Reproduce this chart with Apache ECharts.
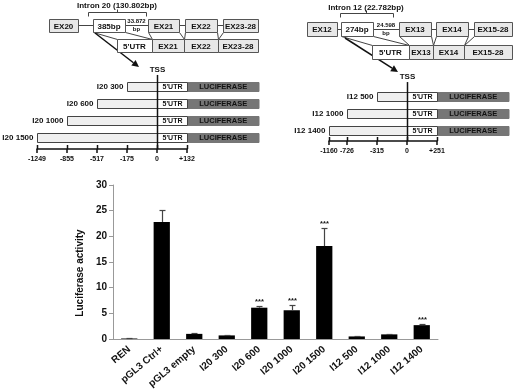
<!DOCTYPE html>
<html>
<head>
<meta charset="utf-8">
<script src="https://cdn.jsdelivr.net/npm/echarts@6/dist/echarts.min.js"></script>
<style>
html, body { margin: 0; padding: 0; background: #fff; }
#main { width: 520px; height: 392px; }
</style>
</head>
<body>
<div id="main"></div>
<script>
// bar chart data
var categories = ['REN', 'pGL3 Ctrl+', 'pGL3 empty', 'I20 300', 'I20 600', 'I20 1000', 'I20 1500', 'I12 500', 'I12 1000', 'I12 1400'];
var activity = [0.1, 22.8, 1.0, 0.7, 6.1, 5.6, 18.1, 0.5, 0.9, 2.7];
var errors = [0.05, 2.4, 0.15, 0.15, 0.4, 1.0, 3.5, 0.1, 0.15, 0.2];
var stars = ['', '', '', '', '***', '***', '***', '', '', '***'];

// promoter constructs, intron 20
var i20Names = ['I20 300', 'I20 600', 'I20 1000', 'I20 1500'];
var i20Start = [-175, -517, -855, -1249];
var i20TicksBp = [-1249, -855, -517, -175, 0, 132];
var i20TickSlots = [-4, -3, -2, -1, 0, 1];

// promoter constructs, intron 12
var i12Names = ['I12 500', 'I12 1000', 'I12 1400'];
var i12Start = [-315, -726, -1160];
var i12TicksBp = [-1160, -726, -315, 0, 251];
var i12TickSlots = [-2.6, -2, -1, 0, 1];

var FONT = '"Liberation Sans", Arial, sans-serif';
function bf(sz) { return 'bold ' + sz + 'px ' + FONT; }
function bpLabel(v) { return v > 0 ? '+' + v : String(v); }
// the drawing is schematic: each bp tick sits on its own slot
function bpToSlot(bp, ticks, slots) { return slots[ticks.indexOf(bp)]; }

var chart = echarts.init(document.getElementById('main'));

// ---- schematic exon drawings (graphic) ----
var g = [];
var EXF = '#e8e8e8';
function box(x1, y1, x2, y2, t, fill) {
    g.push({ type: 'rect', z: 10, shape: { x: x1 + 0.5, y: y1 + 0.5, width: x2 - x1, height: y2 - y1 },
        style: { fill: fill || EXF, stroke: '#555', lineWidth: 1 } });
    g.push({ type: 'text', z: 11, x: (x1 + x2) / 2, y: (y1 + y2) / 2 + 1,
        style: { text: t, font: bf(8), fill: '#111', align: 'center', verticalAlign: 'middle' } });
}
function seg(pts, w, col) {
    g.push({ type: 'polyline', z: 9, shape: { points: pts }, style: { stroke: col || '#444', lineWidth: w || 1, fill: null } });
}
function txt(x, y, t, sz) {
    g.push({ type: 'text', z: 11, x: x, y: y, style: { text: t, font: bf(sz), fill: '#111', align: 'center', verticalAlign: 'middle' } });
}
function arrow(x1, y1, x2, y2) {
    var dx = x2 - x1, dy = y2 - y1, L = Math.sqrt(dx * dx + dy * dy), ux = dx / L, uy = dy / L;
    var bx = x2 - ux * 7, by = y2 - uy * 7;
    seg([[x1, y1], [bx, by]], 1.5, '#111');
    g.push({ type: 'polygon', z: 12, shape: { points: [[x2, y2], [bx - uy * 3.5, by + ux * 3.5], [bx + uy * 3.5, by - ux * 3.5]] },
        style: { fill: '#111' } });
}

// intron 20
txt(117, 6, 'Intron 20 (130.802bp)', 8);
seg([[88.5, 16.5], [88.5, 12.5], [146.5, 12.5], [146.5, 16.5]]);
seg([[117.5, 12.5], [117.5, 9.5]]);
box(49, 19, 78, 32, 'EX20');
seg([[78, 25.5], [93, 25.5]]);
box(93, 19, 125, 32, '385bp', '#fff');
seg([[125, 25.5], [148, 25.5]]);
txt(136.5, 21.5, '33.872', 6);
txt(136.5, 29.5, 'bp', 6);
box(148, 19, 179, 32, 'EX21');
seg([[179, 25.5], [185, 25.5]]);
box(185, 19, 217, 32, 'EX22');
seg([[217, 25.5], [223, 25.5]]);
box(223, 19, 258, 32, 'EX23-28');
box(117, 39, 152, 52, "5'UTR", '#fff');
box(152, 39, 184, 52, 'EX21');
box(184, 39, 218, 52, 'EX22');
box(218, 39, 258, 52, 'EX23-28');
seg([[93.5, 32.5], [117.5, 39.5]]);
seg([[125.5, 32.5], [152.5, 39.5]]);
seg([[148.5, 32.5], [152.5, 39.5]]);
seg([[179.5, 32.5], [184.5, 39.5]]);
seg([[185.5, 32.5], [184.5, 39.5]]);
seg([[217.5, 32.5], [218.5, 39.5]]);
seg([[223.5, 32.5], [218.5, 39.5]]);
arrow(95, 33, 139, 67);

// intron 12
txt(366, 8, 'Intron 12 (22.782bp)', 8);
seg([[340.5, 17.5], [340.5, 13.5], [393.5, 13.5], [393.5, 17.5]]);
seg([[366.5, 13.5], [366.5, 10.5]]);
box(307, 22, 337, 36, 'EX12');
seg([[337, 29.5], [341, 29.5]]);
box(341, 22, 373, 36, '274bp', '#fff');
seg([[373, 29.5], [399, 29.5]]);
txt(386, 25, '24.598', 6);
txt(386, 33, 'bp', 6);
box(399, 22, 431, 36, 'EX13');
seg([[431, 29.5], [436, 29.5]]);
box(436, 22, 468, 36, 'EX14');
seg([[468, 29.5], [474, 29.5]]);
box(474, 22, 512, 36, 'EX15-28');
box(372, 45, 409, 59, "5'UTR", '#fff');
box(409, 45, 433, 59, 'EX13');
box(433, 45, 464, 59, 'EX14');
box(464, 45, 512, 59, 'EX15-28');
seg([[341.5, 36.5], [372.5, 45.5]]);
seg([[373.5, 36.5], [409.5, 45.5]]);
seg([[399.5, 36.5], [409.5, 45.5]]);
seg([[431.5, 36.5], [433.5, 45.5]]);
seg([[436.5, 36.5], [433.5, 45.5]]);
seg([[468.5, 36.5], [464.5, 45.5]]);
seg([[474.5, 36.5], [464.5, 45.5]]);
arrow(345, 38, 398, 72);

// ---- construct rows (custom series on schematic axes) ----
var LUC_END = 3.4;
function constructRender(names) {
    return function (params, api) {
        var s = api.value(0), row = api.value(1), name = names[params.dataIndex];
        var p0 = api.coord([s, row]), pT = api.coord([0, row]), pU = api.coord([1, row]), pL = api.coord([LUC_END, row]);
        var h = 9, y = Math.round(p0[1] - h / 2) + 0.5;
        var x0 = Math.round(p0[0]) + 0.5, xT = Math.round(pT[0]) + 0.5, xU = Math.round(pU[0]) + 0.5, xL = Math.round(pL[0]);
        return { type: 'group', children: [
            { type: 'rect', shape: { x: xU, y: y, width: xL - xU, height: h }, style: { fill: '#767676', stroke: '#767676', lineWidth: 1 } },
            { type: 'rect', shape: { x: x0, y: y, width: xT - x0, height: h }, style: { fill: '#efefef', stroke: '#444', lineWidth: 1 } },
            { type: 'rect', shape: { x: xT, y: y, width: xU - xT, height: h }, style: { fill: '#fff', stroke: '#444', lineWidth: 1 } },
            { type: 'text', x: (xT + xU) / 2, y: p0[1] + 1, style: { text: "5'UTR", font: bf(7), fill: '#111', align: 'center', verticalAlign: 'middle' } },
            { type: 'text', x: (xU + xL) / 2, y: p0[1] + 1, style: { text: 'LUCIFERASE', font: bf(7.5), fill: '#111', align: 'center', verticalAlign: 'middle' } },
            { type: 'text', x: x0 - 4, y: p0[1] + 1, style: { text: name, font: bf(8), fill: '#111', align: 'right', verticalAlign: 'middle' } }
        ] };
    };
}
function tssItem(params, api) {
    var top = api.coord([0, api.value(1)]), bot = api.coord([0, api.value(2)]);
    var x = Math.round(top[0]) + 0.5;
    return { type: 'group', children: [
        { type: 'line', shape: { x1: x, y1: top[1], x2: x, y2: bot[1] }, style: { stroke: '#111', lineWidth: 1.5 } },
        { type: 'text', x: x, y: top[1] - 1, style: { text: 'TSS', font: bf(8), fill: '#111', align: 'center', verticalAlign: 'bottom' } }
    ] };
}
// upper half of each position tick (the axis draws the lower half)
function tickUpItem(params, api) {
    var p = api.coord([api.value(0), api.value(1)]);
    var x = Math.round(p[0]) + 0.5;
    return { type: 'line', shape: { x1: x, y1: p[1], x2: x, y2: p[1] - 4 }, style: { stroke: '#111', lineWidth: 1.5 } };
}

var i20Rows = i20Names.map(function (n, i) { return [bpToSlot(i20Start[i], i20TicksBp, i20TickSlots), i + 1]; });
var i12Rows = i12Names.map(function (n, i) { return [bpToSlot(i12Start[i], i12TicksBp, i12TickSlots), i + 1]; });

function slotAxis(grid, min, max, slots, ticksBp) {
    return {
        type: 'value', gridIndex: grid, min: min, max: max, position: 'bottom',
        splitLine: { show: false },
        axisLine: { show: true, onZero: false, lineStyle: { color: '#111', width: 1.5 } },
        axisTick: { show: true, length: 4, customValues: slots, lineStyle: { color: '#111', width: 1.5 } },
        axisLabel: { show: true, customValues: slots, margin: 7, fontWeight: 'bold', fontSize: 7, fontFamily: FONT, color: '#111',
            formatter: function (v) { var k = slots.indexOf(v); return k < 0 ? '' : bpLabel(ticksBp[k]); } }
    };
}

// ---- error bars ----
function errItem(params, api) {
    var i = api.value(0), v = api.value(1), e = api.value(2), st = stars[params.dataIndex];
    var base = api.coord([i, v]), top = api.coord([i, v + e]);
    var x = Math.round(base[0]) + 0.5, yt = Math.round(top[1]) + 0.5;
    var ch = [
        { type: 'line', shape: { x1: x, y1: base[1], x2: x, y2: yt }, style: { stroke: '#444', lineWidth: 1.2 } },
        { type: 'line', shape: { x1: x - 3, y1: yt, x2: x + 3, y2: yt }, style: { stroke: '#444', lineWidth: 1.2 } }
    ];
    if (st) ch.push({ type: 'text', x: x, y: yt - 1, style: { text: st, font: bf(7.5), fill: '#111', align: 'center', verticalAlign: 'bottom' } });
    return { type: 'group', children: ch };
}
var errData = activity.map(function (v, i) { return [i, v, errors[i]]; });

var I20_YMAX = 4.7, I12_YMAX = 3.647;

var option = {
    animation: false,
    backgroundColor: '#fff',
    textStyle: { fontFamily: FONT },
    graphic: g,
    grid: [
        { left: 37, top: 69, width: 150, height: 80 },
        { left: 329, top: 79, width: 108, height: 62 },
        { left: 113, top: 185, width: 325, height: 154 }
    ],
    xAxis: [
        slotAxis(0, -4, 1, i20TickSlots, i20TicksBp),
        slotAxis(1, -2.6, 1, i12TickSlots, i12TicksBp),
        {
            type: 'category', gridIndex: 2, data: categories,
            axisLine: { lineStyle: { color: '#999', width: 1 } },
            axisTick: { length: 4, lineStyle: { color: '#999' } },
            axisLabel: { rotate: 40, margin: 9, fontSize: 10, fontWeight: 'bold', fontFamily: FONT, color: '#111', interval: 0 }
        }
    ],
    yAxis: [
        { type: 'value', gridIndex: 0, min: 0, max: I20_YMAX, inverse: true, show: false },
        { type: 'value', gridIndex: 1, min: 0, max: I12_YMAX, inverse: true, show: false },
        {
            type: 'value', gridIndex: 2, min: 0, max: 30, interval: 5,
            name: 'Luciferase activity', nameLocation: 'middle', nameGap: 22,
            nameTextStyle: { fontSize: 10, fontWeight: 'bold', fontFamily: FONT, color: '#111', padding: [0, 22, 0, 0] },
            splitLine: { show: false },
            axisLine: { show: true, lineStyle: { color: '#999', width: 1 } },
            axisTick: { show: true, length: 4, lineStyle: { color: '#999' } },
            axisLabel: { margin: 6, fontSize: 10, fontWeight: 'bold', fontFamily: FONT, color: '#111' }
        }
    ],
    series: [
        { type: 'custom', xAxisIndex: 0, yAxisIndex: 0, clip: false, renderItem: constructRender(i20Names), data: i20Rows, z: 5 },
        { type: 'custom', xAxisIndex: 0, yAxisIndex: 0, clip: false, renderItem: tssItem, data: [[0, 0.35, I20_YMAX]], z: 6 },
        { type: 'custom', xAxisIndex: 0, yAxisIndex: 0, clip: false, renderItem: tickUpItem,
          data: i20TickSlots.map(function (s) { return [s, I20_YMAX]; }), z: 6 },
        { type: 'custom', xAxisIndex: 1, yAxisIndex: 1, clip: false, renderItem: constructRender(i12Names), data: i12Rows, z: 5 },
        { type: 'custom', xAxisIndex: 1, yAxisIndex: 1, clip: false, renderItem: tssItem, data: [[0, 0.18, I12_YMAX]], z: 6 },
        { type: 'custom', xAxisIndex: 1, yAxisIndex: 1, clip: false, renderItem: tickUpItem,
          data: i12TickSlots.map(function (s) { return [s, I12_YMAX]; }), z: 6 },
        { type: 'bar', xAxisIndex: 2, yAxisIndex: 2, data: activity, barWidth: '50%', itemStyle: { color: '#000' } },
        { type: 'custom', xAxisIndex: 2, yAxisIndex: 2, clip: false, renderItem: errItem, data: errData, z: 4 }
    ]
};
chart.setOption(option);
</script>
</body>
</html>
